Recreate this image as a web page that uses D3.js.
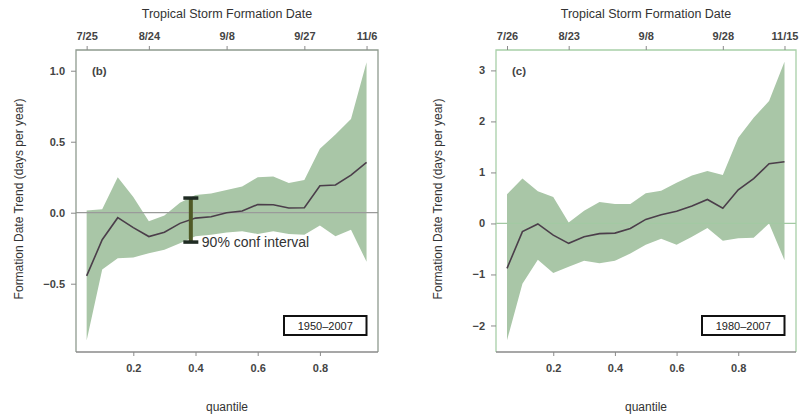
<!DOCTYPE html>
<html><head><meta charset="utf-8">
<script src="https://cdn.jsdelivr.net/npm/d3@7"></script>
<style>body{margin:0;background:#fff}svg{display:block}text{font-family:"Liberation Sans",Arial,sans-serif}</style>
</head><body><svg id="c" width="801" height="419"></svg>
<script>
const quantiles = [0.05,0.10,0.15,0.20,0.25,0.30,0.35,0.40,0.45,0.50,0.55,0.60,0.65,0.70,0.75,0.80,0.85,0.90,0.95];
// Panel (b) 1950-2007
const medianB = [-0.445,-0.19,-0.035,-0.105,-0.168,-0.138,-0.075,-0.038,-0.029,0.0,0.012,0.058,0.056,0.033,0.035,0.19,0.195,0.265,0.355];
const upperB  = [0.015,0.025,0.25,0.11,-0.06,-0.02,0.07,0.125,0.135,0.16,0.185,0.25,0.255,0.21,0.23,0.45,0.55,0.66,1.06];
const lowerB  = [-0.90,-0.40,-0.32,-0.315,-0.285,-0.26,-0.215,-0.165,-0.155,-0.14,-0.13,-0.15,-0.13,-0.15,-0.155,-0.09,-0.165,-0.12,-0.345];
// Panel (c) 1980-2007
const medianC = [-0.88,-0.16,-0.01,-0.23,-0.39,-0.26,-0.2,-0.19,-0.1,0.08,0.17,0.24,0.34,0.47,0.3,0.66,0.88,1.17,1.21];
const upperC  = [0.57,0.88,0.63,0.52,0.02,0.25,0.42,0.38,0.38,0.59,0.64,0.8,0.94,1.03,0.95,1.68,2.07,2.4,3.17];
const lowerC  = [-2.29,-1.18,-0.71,-0.97,-0.85,-0.73,-0.78,-0.73,-0.59,-0.42,-0.3,-0.42,-0.26,-0.09,-0.34,-0.29,-0.28,0.0,-0.72];
// Axes
const xTicks = [0.2,0.4,0.6,0.8];
const dateTickQ = [0.05,0.25,0.5,0.75,0.95];
const datesB = ["7/25","8/24","9/8","9/27","11/6"];
const datesC = ["7/26","8/23","9/8","9/28","11/15"];
const yTicksB = [-0.5,0.0,0.5,1.0];
const yTicksC = [-2,-1,0,1,2,3];
// Annotation
const ciBar = [-0.205, 0.105];
const ciBarQ = 0.385;

const svg = d3.select("#c");

function panel(o){
  const g = svg.append("g");
  const x = d3.scaleLinear().domain([0,1]).range(o.xr);
  const y = d3.scaleLinear().domain(o.yd).range([352,50]);
  const L=o.box[0], R=o.box[1], T=50, B=352;
  const rows = quantiles.map((q,i)=>({q, m:o.med[i], u:o.up[i], l:o.lo[i]}));
  // band
  g.append("path").datum(rows)
    .attr("d", d3.area().x(d=>x(d.q)).y0(d=>y(d.l)).y1(d=>y(d.u)))
    .attr("fill","#a9c6a7");
  // zero line
  g.append("line").attr("x1",L).attr("x2",R).attr("y1",y(0)).attr("y2",y(0))
    .attr("stroke",o.zeroCol).attr("stroke-width",1.2);
  // median
  g.append("path").datum(rows)
    .attr("d", d3.line().x(d=>x(d.q)).y(d=>y(d.m)))
    .attr("fill","none").attr("stroke","#4b3e4a").attr("stroke-width",1.6);
  // box
  g.append("path").attr("d",`M${L},${B}V${T}H${R}V${B}`).attr("fill","none")
    .attr("stroke",o.boxCol).attr("stroke-width",1.3);
  g.append("line").attr("x1",L).attr("x2",R).attr("y1",B).attr("y2",B)
    .attr("stroke","#8a8a8a").attr("stroke-width",1.3);
  // axes
  const ax = (sel)=>{sel.select(".domain").remove();
    sel.selectAll(".tick line").attr("stroke","#8a8a8a");
    sel.selectAll("text").attr("fill","#444").style("font-size","11px").style("font-weight","bold").attr("font-family","Liberation Sans, Arial, sans-serif");};
  g.append("g").attr("transform",`translate(0,${B})`)
    .call(d3.axisBottom(x).tickValues(xTicks).tickFormat(d3.format(".1f")).tickSize(4).tickPadding(8)).call(ax);
  g.append("g").attr("transform",`translate(0,${T})`)
    .call(d3.axisTop(x).tickValues(dateTickQ).tickFormat((d,i)=>o.dates[i]).tickSize(4).tickPadding(6)).call(ax);
  g.append("g").attr("transform",`translate(${L},0)`)
    .call(d3.axisLeft(y).tickValues(o.yTicks).tickFormat(o.yFmt).tickSize(5).tickPadding(6)).call(ax);
  // titles
  const cx = (L+R)/2;
  g.append("text").attr("x",cx).attr("y",18).attr("text-anchor","middle")
    .style("font-size","12.5px").attr("fill","#333").text("Tropical Storm Formation Date");
  g.append("text").attr("x",cx).attr("y",411).attr("text-anchor","middle")
    .style("font-size","12px").attr("fill","#333").text("quantile");
  g.append("text").attr("transform",`translate(${o.ylabX},199) rotate(-90)`).attr("text-anchor","middle")
    .attr("dy","0.35em").style("font-size","12px").attr("fill","#333").text("Formation Date Trend (days per year)");
  g.append("text").attr("x",L+16).attr("y",75).style("font-size","11.5px").style("font-weight","bold")
    .attr("fill","#444").text(o.tag);
  // period box
  g.append("rect").attr("x",o.pb[0]).attr("y",316).attr("width",o.pb[1]-o.pb[0]).attr("height",19)
    .attr("fill","#fff").attr("stroke","#111").attr("stroke-width",2);
  g.append("text").attr("x",(o.pb[0]+o.pb[1])/2).attr("y",326).attr("dy","0.35em").attr("text-anchor","middle")
    .style("font-size","11px").attr("fill","#222").text(o.period);
  return {g,x,y};
}

const pB = panel({xr:[71.1,382.1], yd:[-0.981,1.146], box:[76,378], med:medianB, up:upperB, lo:lowerB,
  dates:datesB, yTicks:yTicksB, yFmt:d3.format(".1f"), zeroCol:"#9a9a9a", boxCol:"#8f9a8f",
  ylabX:19, tag:"(b)", pb:[284,366.5], period:"1950\u20132007"});
const pC = panel({xr:[491.6,799.9], yd:[-2.52,3.40], box:[496,796], med:medianC, up:upperC, lo:lowerC,
  dates:datesC, yTicks:yTicksC, yFmt:d=>d<0?"\u2212"+Math.abs(d):d, zeroCol:"#a3c9a3", boxCol:"#a8cfa8",
  ylabX:438, tag:"(c)", pb:[702,784.5], period:"1980\u20132007"});

// 90% conf interval annotation
const cxp = pB.x(ciBarQ);
pB.g.append("line").attr("x1",cxp).attr("x2",cxp).attr("y1",pB.y(ciBar[0])).attr("y2",pB.y(ciBar[1]))
  .attr("stroke","#4f5a26").attr("stroke-width",4);
pB.g.selectAll("rect.cap").data(ciBar).join("rect").attr("class","cap")
  .attr("x",cxp-7.5).attr("width",15).attr("y",d=>pB.y(d)-1.5).attr("height",3.5).attr("fill","#1f2b23");
pB.g.append("text").attr("x",cxp+11).attr("y",pB.y(ciBar[0])).attr("dy","0.35em")
  .style("font-size","14px").attr("fill","#333").text("90% conf interval");
</script></body></html>
